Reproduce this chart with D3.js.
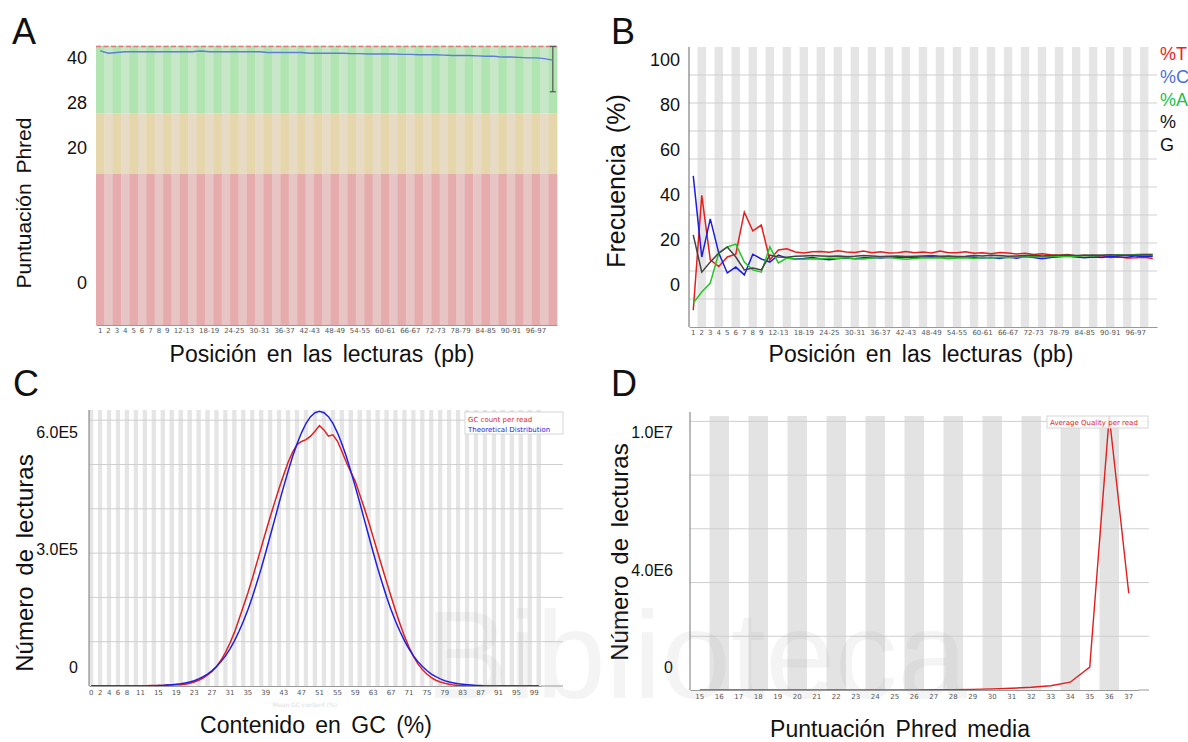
<!DOCTYPE html>
<html>
<head>
<meta charset="utf-8">
<script src="https://cdn.jsdelivr.net/npm/d3@7"></script>
<style>
  body { margin: 0; background: #fff; }
  svg { display: block; font-family: "Liberation Sans", Arial, sans-serif; }
  .tick-small { font-family: "DejaVu Sans", sans-serif; font-size: 7px; fill: #555; }
</style>
</head>
<body>
<div id="chart"></div>
<script>
// ---------------- data ----------------
// read position groups (panels A and B)
const positionGroups = ["1","2","3","4","5","6","7","8","9",
  "10-11","12-13","14-15","16-17","18-19","20-21","22-23","24-25","26-27","28-29",
  "30-31","32-33","34-35","36-37","38-39","40-41","42-43","44-45","46-47","48-49",
  "50-51","52-53","54-55","56-57","58-59","60-61","62-63","64-65","66-67","68-69",
  "70-71","72-73","74-75","76-77","78-79","80-81","82-83","84-85","86-87","88-89",
  "90-91","92-93","94-95","96-97","98-99","100-101"];
const positionTicks = ["1","2","3","4","5","6","7","8","9","12-13","18-19","24-25","30-31",
  "36-37","42-43","48-49","54-55","60-61","66-67","72-73","78-79","84-85","90-91","96-97"];

// A: mean Phred quality per position group
const meanQuality = [36.3,36.0,36.1,36.2,36.2,36.2,36.2,36.2,36.2,
  36.2,36.2,36.2,36.3,36.2,36.2,36.2,36.2,36.2,36.2,36.2,36.1,
  36.1,36.1,36.1,36.1,36.0,36.0,36.0,36.0,36.0,35.95,35.95,35.9,
  35.9,35.9,35.9,35.85,35.85,35.8,35.8,35.8,35.75,35.7,35.7,35.7,
  35.65,35.6,35.6,35.5,35.5,35.45,35.4,35.4,35.3,35.1];
const medianQuality = 37;
const errorBarGroup = "100-101";
const errorBarRange = [30.9, 36.9];
const phredTickValues = [0, 20, 28, 40];

// B: base content (%) per position group
const pctT = [6,47,24,21.6,25,26,41,34.3,36.4,24,27.5,27.9,26.8,26.4,26.9,27.0,26.7,27.2,26.8,26.6,
  27.1,26.5,26.9,26.4,26.5,27.0,26.5,26.8,26.4,27.1,26.5,26.5,26.9,26.3,26.5,26.2,26.6,26.4,26.1,26.3,
  25.9,26.2,25.8,25.6,25.9,25.4,25.6,25.2,25.4,24.8,25.1,24.6,24.7,24.9,24.5];
const pctC = [54,25,38.6,26.4,19.3,21.4,18.6,26,24.3,23.2,25.7,24.6,24.3,24.5,24.8,24.3,24.0,24.5,24.6,24.4,
  24.7,24.8,24.6,24.9,24.7,25.0,24.8,25.0,25.1,24.9,25.2,25.0,25.1,24.9,24.6,24.8,24.5,25.0,24.6,25.2,
  24.8,24.4,24.8,25.1,25.3,25.0,24.7,25.0,24.8,25.2,25.0,24.9,25.4,25.2,25.3];
const pctA = [8.6,12.5,15.7,26.4,28.6,29.6,23.2,20.4,19.6,28.6,22.9,24.6,24.3,24.2,24.4,24.3,24.6,24.5,24.7,24.4,
  24.3,24.6,24.8,24.9,24.5,24.2,24.5,24.7,24.6,24.7,24.4,24.6,24.7,24.5,24.8,24.6,24.9,24.7,25.0,25.0,
  25.2,25.0,25.2,25.3,25.4,25.3,25.5,25.4,25.6,25.6,25.8,25.6,25.9,26.0,26.0];
const pctG = [32.9,19.6,23.2,26.4,28.6,25,20.4,21.1,20.4,25.7,25,24.9,25.3,25.4,25.5,25.4,25.3,25.4,25.2,25.3,
  25.5,25.4,25.2,25.3,25.4,25.2,25.3,25.4,25.5,25.3,25.4,25.2,25.3,25.5,25.4,25.6,25.5,25.3,25.4,25.5,
  25.6,25.4,25.5,25.6,25.7,25.5,25.6,25.7,25.6,25.8,25.6,25.7,25.6,25.8,25.7];
const baseNames = ["%T", "%C", "%A", "%G"];
const baseColors = ["#e61e1e", "#1e1ee0", "#22c822", "#444444"];
const legendColors = ["#f02020", "#4a70dc", "#22c050", "#111111"];
const freqTickValues = [0, 20, 40, 60, 80, 100];

// C: GC content per read (thousands of reads), bins 0..100 %
const gcBins = d3.range(0, 101);
const gcTicks = [0,2,4,6,8,11,15,19,23,27,31,35,39,43,47,51,55,59,63,67,71,75,79,83,87,91,95,99];
const gcCount = [0,0,0,0,0,0,0,0,0,0,0,0,0,1,1,1,1,2,2,3,
  3,4,6,9,13,18,25,33,44,58,76,97,121,150,180,210,243,278,313,348,
  382,415,447,477,505,528,545,552,556,564,575,588,578,564,567,553,530,505,483,462,
  432,402,370,336,302,268,235,202,170,140,112,88,67,50,37,27,19,13,9,6,
  4,2,1,1,0,0,0,0,0,0,0,0,0,0,0,0,0,0,0,0,0];
const gcTheory = [0,0,0,0,0,0,0,0,0,0,0,0,0,0,0,1,1,2,3,4,
  5,7,9,12,16,21,27,35,44,55,68,84,102,123,146,172,201,233,266,302,
  339,376,414,450,485,518,547,572,593,608,617,620,617,608,593,572,547,518,485,450,
  414,376,339,302,266,233,201,172,146,123,102,84,68,55,44,35,27,21,16,12,
  9,7,5,4,3,2,1,1,0,0,0,0,0,0,0,0,0,0,0,0,0];
const gcTickValues = [0, 3e5, 6e5];

// D: reads per mean Phred score (millions)
const qualBins = [15,16,17,18,19,20,21,22,23,24,25,26,27,28,29,30,31,32,33,34,35,36,37];
const qualReads = [0.001,0.001,0.001,0.001,0.002,0.002,0.002,0.003,0.003,0.004,0.005,0.006,
  0.008,0.012,0.025,0.04,0.065,0.1,0.16,0.29,0.85,10.2,3.6];
const qualTickValues = [0, 4e6, 1e7];

// ---------------- chart ----------------
const W = 1188, H = 742;
const svg = d3.select("#chart").append("svg").attr("width", W).attr("height", H);
svg.append("rect").attr("width", W).attr("height", H).attr("fill", "#fff");

function smallXAxis(g, scale, values, pad){
  g.call(d3.axisBottom(scale).tickValues(values).tickSize(0).tickSizeOuter(0).tickPadding(pad))
   .attr("font-family", null).attr("font-size", null);
  g.select(".domain").attr("stroke", "#999");
  g.selectAll("text").attr("class", "tick-small").attr("fill", null);
}

function bigYLabels(g, scale, values, fmt, size){
  g.call(d3.axisLeft(scale).tickValues(values).tickSize(0).tickPadding(0).tickFormat(fmt))
   .attr("font-family", null).attr("font-size", size);
  g.select(".domain").remove();
  g.selectAll("text").attr("fill", "#111");
}

function title(x, y, text, size, rotate){
  svg.append("text")
     .attr("transform", "translate(" + x + "," + y + ")" + (rotate ? " rotate(-90)" : ""))
     .attr("text-anchor", "middle")
     .attr("font-size", size)
     .attr("word-spacing", 4)
     .attr("fill", "#111")
     .text(text);
}

function panelLetter(x, y, t){
  svg.append("text").attr("x", x).attr("y", y).attr("font-size", 36).attr("fill", "#111").text(t);
}

// ---- Panel A ----
(function(){
  const left = 96, right = 557, top = 45.7, bottom = 325;
  const g = svg.append("g").attr("class", "panel-a");
  const x = d3.scaleBand().domain(positionGroups).range([left, right]);
  const y = d3.scaleLinear().domain([0, 37]).range([bottom, top]);
  const bw = x.bandwidth();

  const zones = [
    {from: 28, to: 37, dark: "#b0e4b0", light: "#c8e7c8"},
    {from: 20, to: 28, dark: "#e6d6ab", light: "#e8dbc5"},
    {from: 0,  to: 20, dark: "#e6acad", light: "#e7c5c5"}
  ];
  zones.forEach(z => {
    g.append("g").selectAll("rect").data(positionGroups).join("rect")
      .attr("x", d => x(d)).attr("width", bw + 0.4)
      .attr("y", y(z.to)).attr("height", y(z.from) - y(z.to))
      .attr("fill", (d, i) => i % 2 ? z.light : z.dark);
  });

  // median line
  g.append("line").attr("x1", left).attr("x2", right)
    .attr("y1", y(medianQuality) + 0.8).attr("y2", y(medianQuality) + 0.8)
    .attr("stroke", "#e07a7a").attr("stroke-width", 1.6).attr("stroke-dasharray", "5,2.5");

  // error bar
  const ex = x(errorBarGroup) + bw / 2;
  g.append("line").attr("x1", ex).attr("x2", ex).attr("y1", y(errorBarRange[1])).attr("y2", y(errorBarRange[0]))
    .attr("stroke", "#555").attr("stroke-width", 1.2);
  [0, 1].forEach(k => g.append("line").attr("x1", ex - 3).attr("x2", ex + 3)
    .attr("y1", y(errorBarRange[k])).attr("y2", y(errorBarRange[k])).attr("stroke", "#555").attr("stroke-width", 1.2));

  // mean line
  const line = d3.line().x((d, i) => x(positionGroups[i]) + bw / 2).y(d => y(d));
  g.append("path").datum(meanQuality).attr("d", line)
    .attr("fill", "none").attr("stroke", "#5b7fd2").attr("stroke-width", 1.3);

  smallXAxis(g.append("g").attr("transform", "translate(0," + bottom + ")"), x, positionTicks, 3);

  // overlaid y labels
  const yLab = d3.scaleLinear().domain([0, 20, 28, 40]).range([283, 148, 103, 58]);
  bigYLabels(g.append("g").attr("transform", "translate(87,0)"), yLab, phredTickValues, d => d, 18);

  title(31, 203, "Puntuación Phred", 21, true);
  title(322, 362, "Posición en las lecturas (pb)", 23, false);
  panelLetter(12, 44, "A");
})();

// ---- Panel B ----
(function(){
  const left = 689, right = 1157, top = 47, bottom = 327;
  const g = svg.append("g").attr("class", "panel-b");
  const x = d3.scaleBand().domain(positionGroups).range([left, right]);
  const y = d3.scaleLinear().domain([0, 100]).range([bottom, top]);
  const bw = x.bandwidth();

  g.append("g").selectAll("rect").data(positionGroups).join("rect")
    .attr("x", d => x(d)).attr("width", bw + 0.3).attr("y", top).attr("height", bottom - top)
    .attr("fill", (d, i) => i % 2 ? "#e5e5e5" : "#ffffff");

  g.append("g").selectAll("line").data(d3.range(10, 100, 10)).join("line")
    .attr("x1", left).attr("x2", right).attr("y1", d => y(d)).attr("y2", d => y(d))
    .attr("stroke", "#cfcfcf").attr("stroke-width", 1);

  const series = [pctT, pctC, pctA, pctG];
  const line = d3.line().x((d, i) => x(positionGroups[i]) + bw / 2).y(d => y(d));
  series.forEach((s, k) => {
    g.append("path").datum(s).attr("d", line)
      .attr("fill", "none").attr("stroke", baseColors[k]).attr("stroke-width", 1.5);
  });

  g.append("line").attr("x1", left).attr("x2", left).attr("y1", top).attr("y2", bottom)
    .attr("stroke", "#666").attr("stroke-width", 1);
  smallXAxis(g.append("g").attr("transform", "translate(0," + bottom + ")"), x, positionTicks, 3);

  const yLab = d3.scaleLinear().domain([0, 100]).range([285, 60]);
  bigYLabels(g.append("g").attr("transform", "translate(680,0)"), yLab, freqTickValues, d => d, 18);

  // legend (split as in the original figure)
  const legendLines = ["%T", "%C", "%A", "%", "G"];
  const legendFill = [legendColors[0], legendColors[1], legendColors[2], legendColors[3], legendColors[3]];
  const ly = d3.scalePoint().domain(legendLines).range([60, 151]);
  g.append("g").selectAll("text").data(legendLines).join("text")
    .attr("x", 1160).attr("y", d => ly(d)).attr("font-size", 18)
    .attr("fill", (d, i) => legendFill[i]).text(d => d);

  title(625, 181, "Frecuencia (%)", 25, true);
  title(921, 362, "Posición en las lecturas (pb)", 23, false);
  panelLetter(611, 44, "B");
})();

// ---- Panel C ----
(function(){
  const left = 89, right = 541, gridRight = 563, top = 410, bottom = 686;
  const g = svg.append("g").attr("class", "panel-c");
  const x = d3.scaleBand().domain(gcBins).range([left, right]);
  const y = d3.scaleLinear().domain([0, 623]).range([bottom, top]);
  const bw = x.bandwidth();

  g.append("g").selectAll("rect").data(gcBins).join("rect")
    .attr("x", d => x(d)).attr("width", bw).attr("y", top).attr("height", bottom - top)
    .attr("fill", (d, i) => i % 2 ? "#ffffff" : "#e5e5e5");

  g.append("g").selectAll("line").data([100, 200, 300, 400, 500, 600]).join("line")
    .attr("x1", left).attr("x2", gridRight).attr("y1", d => y(d)).attr("y2", d => y(d))
    .attr("stroke", "#cfcfcf");

  const line = d3.line().x((d, i) => x(gcBins[i]) + bw / 2).y(d => y(d));
  g.append("path").datum(gcCount).attr("d", line).attr("fill", "none").attr("stroke", "#e21e1e").attr("stroke-width", 1.5);
  g.append("path").datum(gcTheory).attr("d", line).attr("fill", "none").attr("stroke", "#1e1ee6").attr("stroke-width", 1.5);

  g.append("line").attr("x1", left).attr("x2", left).attr("y1", top).attr("y2", bottom).attr("stroke", "#777");
  const xa = g.append("g").attr("transform", "translate(0," + bottom + ")");
  smallXAxis(xa, x, gcTicks, 4);
  xa.append("line").attr("x1", right).attr("x2", gridRight).attr("stroke", "#999");

  // legend box
  const lg = g.append("g").attr("transform", "translate(465,412)");
  lg.append("rect").attr("width", 98).attr("height", 22).attr("fill", "#fff").attr("stroke", "#d6d6d6");
  lg.append("text").attr("x", 3).attr("y", 10).attr("font-family", "DejaVu Sans").attr("font-size", 7).attr("fill", "#e21e1e").text("GC count per read");
  lg.append("text").attr("x", 3).attr("y", 20).attr("font-family", "DejaVu Sans").attr("font-size", 7).attr("fill", "#1e1ee6").text("Theoretical Distribution");

  const yLab = d3.scaleLinear().domain([0, 6e5]).range([667, 432]);
  bigYLabels(g.append("g").attr("transform", "translate(78,0)"), yLab, gcTickValues,
    d => d === 0 ? "0" : d3.format(".1e")(d).replace("e+", "E"), 16);

  g.append("text").attr("x", 305).attr("y", 707).attr("text-anchor", "middle")
    .attr("font-family", "DejaVu Sans").attr("font-size", 6).attr("fill", "#ddd").text("Mean GC content (%)");

  title(33, 563, "Número de lecturas", 24, true);
  title(316, 733, "Contenido en GC (%)", 23, false);
  panelLetter(13, 396, "C");
})();

// ---- Panel D ----
(function(){
  const left = 690, right = 1138.5, gridRight = 1149, top = 416, bottom = 690;
  const g = svg.append("g").attr("class", "panel-d");
  const x = d3.scaleBand().domain(qualBins).range([left, right]);
  const y = d3.scaleLinear().domain([0, 10.2]).range([bottom, top]);
  const bw = x.bandwidth();

  g.append("g").selectAll("rect").data(qualBins).join("rect")
    .attr("x", d => x(d)).attr("width", bw).attr("y", top).attr("height", bottom - top)
    .attr("fill", (d, i) => i % 2 ? "#e3e3e3" : "#ffffff");

  g.append("g").selectAll("line").data([2, 4, 6, 8, 10]).join("line")
    .attr("x1", left).attr("x2", gridRight).attr("y1", d => y(d)).attr("y2", d => y(d))
    .attr("stroke", "#cfcfcf");

  const line = d3.line().x((d, i) => x(qualBins[i]) + bw / 2).y(d => y(d));
  g.append("path").datum(qualReads).attr("d", line).attr("fill", "none").attr("stroke", "#e21e1e").attr("stroke-width", 1.4);

  g.append("line").attr("x1", left).attr("x2", left).attr("y1", top - 4).attr("y2", bottom).attr("stroke", "#777");
  const xa = g.append("g").attr("transform", "translate(0," + bottom + ")");
  smallXAxis(xa, x, qualBins, 4);
  xa.append("line").attr("x1", right).attr("x2", gridRight).attr("stroke", "#999");

  const lg = g.append("g").attr("transform", "translate(1047,416)");
  lg.append("rect").attr("width", 101).attr("height", 12).attr("fill", "#fff").attr("fill-opacity", 0.8).attr("stroke", "#d6d6d6");
  lg.append("text").attr("x", 3).attr("y", 9).attr("font-family", "DejaVu Sans").attr("font-size", 7).attr("fill", "#e21e1e").text("Average Quality per read");

  const yLab = d3.scaleLinear().domain([0, 4e6, 1e7]).range([667, 570, 432]);
  bigYLabels(g.append("g").attr("transform", "translate(673,0)"), yLab, qualTickValues,
    d => d === 0 ? "0" : d3.format(".1e")(d).replace("e+", "E"), 16);

  title(628, 552, "Número de lecturas", 24, true);
  title(900, 737, "Puntuación Phred media", 23, false);
  panelLetter(611, 396, "D");
})();

// faint repository watermark
svg.append("text").attr("x", 425).attr("y", 698).attr("font-size", 125)
  .attr("fill", "#9a9a9a").attr("opacity", 0.1).text("Biblioteca");
</script>
</body>
</html>
